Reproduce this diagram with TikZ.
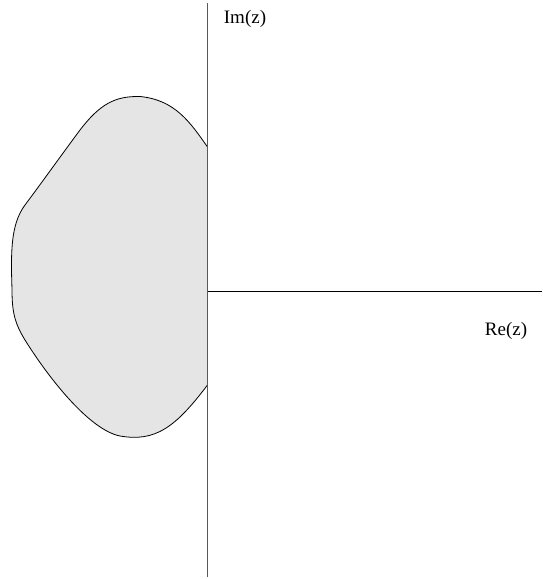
\documentclass[tikz,border=0pt]{standalone}
\usepackage{fontspec}
\setmainfont{Liberation Serif}
\begin{document}
\begin{tikzpicture}[x=1pt,y=-1pt,
  region/.style={draw=black,fill=black!10,line width=0.8pt},
  vaxis/.style={draw=black!65,line width=1.3pt},
  haxis/.style={draw=black,line width=0.9pt},
  lbl/.style={font=\fontsize{19}{22}\selectfont,inner sep=0pt}]
\useasboundingbox (0,0) rectangle (542,579);
\filldraw[region] (207.5,147) .. controls (190,122) and (175,100) .. (140,96.5)
  .. controls (115,96) and (100,104) .. (80,130)
  .. controls (60,157) and (40,185) .. (25,205)
  .. controls (10,225) and (11,255) .. (12,290)
  .. controls (12,315) and (16,325) .. (25,340)
  .. controls (50,380) and (90,430) .. (120,436)
  .. controls (155,442) and (175,428) .. (207.5,385) -- cycle;
\coordinate (vt) at (207.5,3);
\coordinate (vb) at (207.5,577);
\coordinate (o) at (207.5,291.5);
\coordinate (hr) at (542,291.5);
\draw[vaxis] (vt) -- (vb);
\draw[haxis] (o) -- (hr);
\node[lbl] (im) at (245,19) {Im(z)};
\node[lbl] (re) at (506,331) {Re(z)};
\end{tikzpicture}
\end{document}
